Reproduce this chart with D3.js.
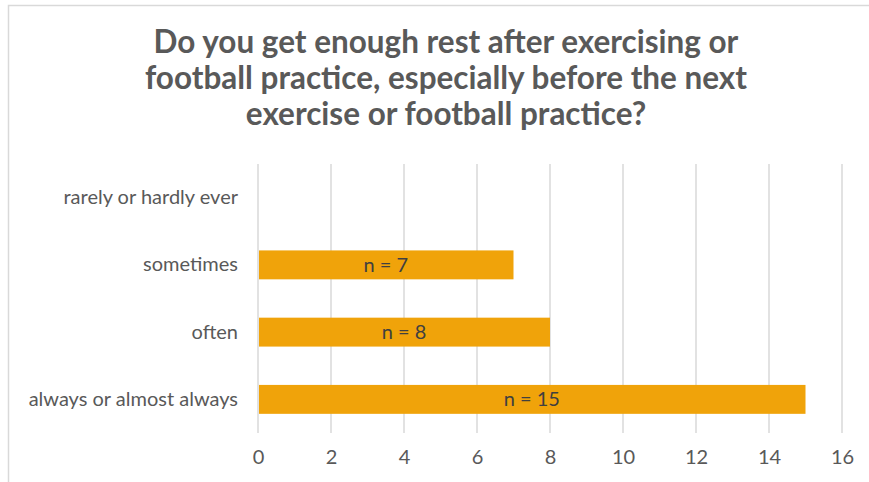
<!DOCTYPE html>
<html>
<head>
<meta charset="utf-8">
<script src="https://cdn.jsdelivr.net/npm/d3@7"></script>
<style>
  html, body { margin: 0; padding: 0; background: #fff; }
  svg { display: block; }
</style>
</head>
<body>
<svg id="chart" width="869" height="482"></svg>
<script>
// Survey answers, top to bottom
const categories = ["rarely or hardly ever", "sometimes", "often", "always or almost always"];
const counts = [0, 7, 8, 15];
const tickValues = [0, 2, 4, 6, 8, 10, 12, 14, 16];
const titleLines = [
  "Do you get enough rest after exercising or",
  "football practice,  especially before the next",
  "exercise or football practice?"
];

const svg = d3.select("#chart");
const W = 869, H = 482;
const margin = { left: 258, right: 27, top: 164, bottom: 49 };
const font = "Lato, 'Open Sans', 'Liberation Sans', sans-serif";
const labelSize = 20;

// chart frame
svg.append("rect")
  .attr("x", 8.5).attr("y", 5.5)
  .attr("width", W + 10).attr("height", H + 10)
  .attr("fill", "#fff").attr("stroke", "#D9D9D9").attr("stroke-width", 1.5);

const x = d3.scaleLinear().domain([0, 16]).range([margin.left, W - margin.right]);
const y = d3.scaleBand().domain(categories).range([margin.top, H - margin.bottom]).paddingInner(0.57).paddingOuter(0.285);

// title
const title = svg.append("text")
  .attr("text-anchor", "middle")
  .attr("font-family", font)
  .attr("font-weight", "bold")
  .attr("font-size", 25)
  .attr("fill", "#595959");
titleLines.forEach((t, i) => {
  title.append("tspan").attr("x", 446).attr("y", 53 + i * 36).text(t);
});
// fit title width to the design width
const firstWidth = title.select("tspan").node().getComputedTextLength();
title.attr("font-size", 25 * 585 / firstWidth);

// vertical gridlines
svg.append("g")
  .selectAll("line")
  .data(tickValues)
  .join("line")
  .attr("x1", d => x(d)).attr("x2", d => x(d))
  .attr("y1", margin.top).attr("y2", H - margin.bottom)
  .attr("stroke", "#D9D9D9").attr("stroke-width", 1.5);

const rows = categories.map((c, i) => ({ c, v: counts[i] })).filter(d => d.v > 0);

// bars
svg.append("g")
  .selectAll("rect")
  .data(rows)
  .join("rect")
  .attr("x", x(0) + 1)
  .attr("y", d => y(d.c))
  .attr("width", d => x(d.v) - x(0) - 1)
  .attr("height", y.bandwidth())
  .attr("fill", "#F0A30A");

// value labels
svg.append("g")
  .selectAll("text")
  .data(rows)
  .join("text")
  .attr("x", d => (x(0) + x(d.v)) / 2)
  .attr("y", d => y(d.c) + y.bandwidth() / 2)
  .attr("dy", "0.35em")
  .attr("text-anchor", "middle")
  .attr("font-family", font)
  .attr("font-size", labelSize)
  .attr("fill", "#404040")
  .text(d => "n = " + d.v);

// x axis labels
const xAxis = d3.axisBottom(x).tickValues(tickValues).tickSize(0).tickPadding(17);
const gx = svg.append("g").attr("transform", `translate(0,${H - margin.bottom})`).call(xAxis);
gx.select(".domain").remove();
gx.selectAll("text").attr("font-family", font).attr("font-size", labelSize).attr("fill", "#595959");

// y axis labels
const yAxis = d3.axisLeft(y).tickSize(0).tickPadding(20);
const gy = svg.append("g").attr("transform", `translate(${margin.left},0)`).call(yAxis);
gy.select(".domain").remove();
gy.selectAll("text").attr("font-family", font).attr("font-size", labelSize).attr("fill", "#595959");
</script>
</body>
</html>
